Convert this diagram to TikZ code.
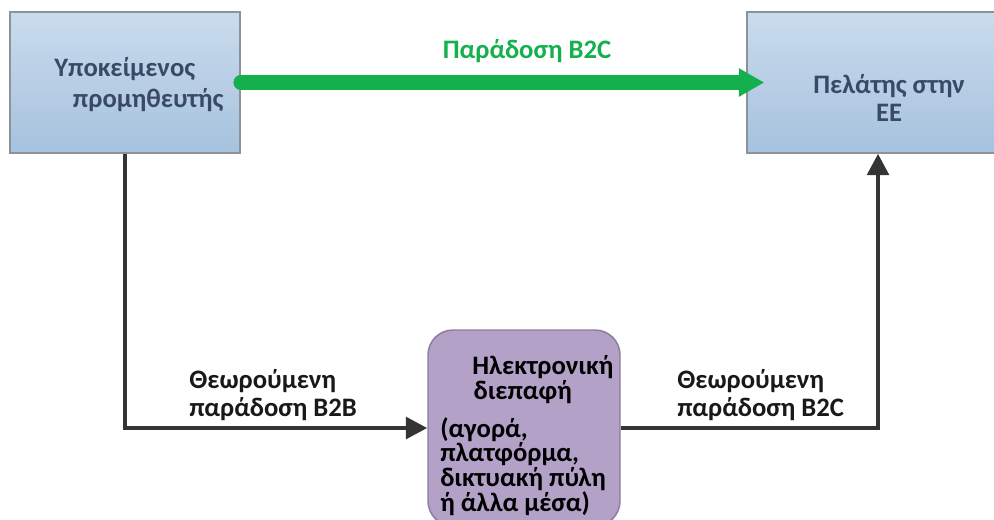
\documentclass[tikz,border=0pt]{standalone}
\usepackage{fontspec}
\setmainfont{Carlito}
\usetikzlibrary{arrows.meta,positioning}

\definecolor{boxtop}{RGB}{202,219,237}
\definecolor{boxbottom}{RGB}{166,194,222}
\definecolor{boxline}{RGB}{140,146,154}
\definecolor{boxtext}{RGB}{58,74,102}
\definecolor{ifacefill}{RGB}{179,161,200}
\definecolor{ifaceline}{RGB}{140,124,160}
\definecolor{b2cgreen}{RGB}{20,176,78}
\definecolor{flowgray}{RGB}{52,52,52}

\begin{document}
\begin{tikzpicture}
  [x=0.75pt,y=-0.75pt,
   font=\bfseries\fontsize{20}{21}\selectfont,
   party/.style={rectangle,draw=boxline,line width=1.1pt,top color=boxtop,
                 bottom color=boxbottom,minimum height=105.75pt,inner sep=0pt},
   party text/.style={text=boxtext,inner sep=0pt},
   iface/.style={rectangle,rounded corners=18.75pt,draw=ifaceline,line width=1.1pt,
                 fill=ifacefill,minimum width=144pt,minimum height=147pt,inner sep=0pt},
   flow/.style={draw=flowgray,line width=3.4pt,-{Triangle[length=16pt,width=16pt]}},
   green flow/.style={draw=b2cgreen,line width=11pt,line cap=round,
                      -{Triangle[length=19pt,width=20pt]},shorten >=-13.5pt},
   flow label/.style={text=black!90,align=left,inner sep=0pt,anchor=base west}]

  \clip (0,0) rectangle (994,519);

  % Parties
  \node [party,minimum width=172.5pt] (supplier) at (125,82.5) {};
  \node [party,minimum width=196.5pt] (customer) at (878,82.5) {};
  \node [party text,align=left,anchor=base west,
         font=\bfseries\fontsize{20}{23.25}\selectfont] (supplier text) at (54,107)
    {Υποκείμενος\\\hspace*{14pt}προμηθευτής};
  \node [party text,align=center,anchor=base] (customer text) at (889,121)
    {Πελάτης στην\\ΕΕ};

  % Interface
  \node [iface] (interface) at (524,428) {};
  \node [anchor=base west,inner sep=0pt,align=left,
         font=\bfseries\fontsize{20}{18.5}\selectfont] (interface text) at (440,511)
    {\hspace*{24pt}Ηλεκτρονική\\\hspace*{25pt}διεπαφή\\[10pt]
     (αγορά,\\πλατφόρμα,\\δικτυακή πύλη\\ή άλλα μέσα)};

  % Flows
  \draw [green flow] (supplier.east) -- (customer.west);
  \node [anchor=base,text=b2cgreen,inner sep=0pt] (direct) at (527,58) {Παράδοση B2C};
  \draw [flow] (supplier.south) |- (interface.west);
  \draw [flow] (interface.east) -| (customer.south);

  \node [flow label] (b2b) at (189,416) {Θεωρούμενη\\παράδοση B2B};
  \node [flow label] (b2c) at (677,416) {Θεωρούμενη\\παράδοση B2C};

\end{tikzpicture}
\end{document}
